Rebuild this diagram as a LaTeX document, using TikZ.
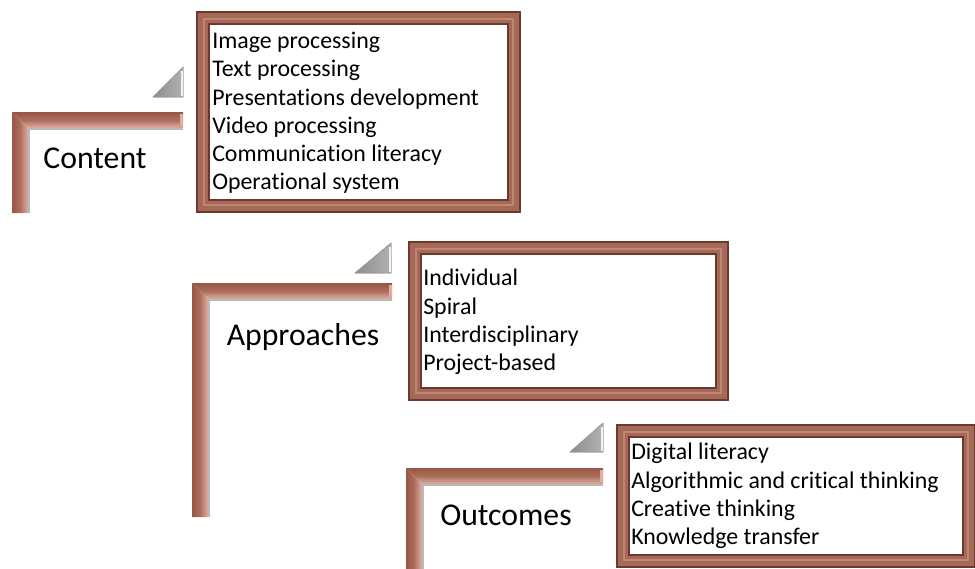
\documentclass[tikz,border=0pt]{standalone}
\usepackage{fontspec}
\setmainfont[Ligatures=NoCommon]{Carlito}

\definecolor{framebrown}{HTML}{A66958}
\definecolor{framedark}{HTML}{6B3A2C}
\definecolor{framelight}{HTML}{BF8676}
\definecolor{barbrown}{HTML}{AD6E5E}
\definecolor{bardark}{HTML}{955645}
\definecolor{barlight}{HTML}{DDB0A2}

\tikzset{
  steplabel/.style={font=\fontsize{23.8}{28}\selectfont, inner sep=0pt},
  itemlist/.style={font=\fontsize{17.9}{21.2}\selectfont, align=left, inner sep=0pt, anchor=west},
  corner/.style={left color=gray!90, right color=gray!60, draw=gray!80, line width=0.4pt}
}

% frame around a list: left, top, right, bottom (pixels)
\newcommand{\stepframe}[4]{%
  \fill[framebrown, draw=framedark, line width=0.8pt] (#1,#2) rectangle (#3,#4);
  \draw[framelight, line width=1.2pt] (#1+7,#2+7) rectangle (#3-7,#4-7);
  \fill[white, draw=framedark, line width=0.8pt] (#1+12,#2+12) rectangle (#3-12,#4-12);
}

% L-shaped bar: left, top, right end, thickness, bottom
\newcommand{\stepbar}[5]{%
  \shade[top color=bardark, bottom color=barlight, middle color=barbrown]
    (#1,#2) -- (#3,#2) -- (#3,#2+#4) -- (#1+#4,#2+#4) -- cycle;
  \shade[left color=bardark, right color=barlight, middle color=barbrown]
    (#1,#2) -- (#1+#4,#2+#4) -- (#1+#4,#5) -- (#1,#5) -- cycle;
  \fill[barlight] (#3-3,#2+2) rectangle (#3,#2+#4-2);
  \draw[gray!55, line width=0.8pt] (#3,#2+#4+1) -- (#1+#4+1,#2+#4+1) -- (#1+#4+1,#5);
}

\begin{document}
\begin{tikzpicture}[x=0.75pt, y=-0.75pt]
\useasboundingbox (0,0) rectangle (975,568);

% step 1
\stepbar{12}{112}{183}{16}{213}
\fill[corner] (153,97) -- (183,97) -- (183,67) -- cycle;
\draw[white!90!gray, line width=1.4pt] (182,71) -- (182,96);
\stepframe{197}{12}{520}{212}
\node[steplabel] (content) at (95,158) {Content};
\node[itemlist] (contentitems) at (212,113) {Image processing\\Text processing\\Presentations development\\Video processing\\Communication literacy\\Operational system};

% step 2
\stepbar{192}{283}{392}{16}{517}
\fill[corner] (355,273) -- (391,273) -- (391,243) -- cycle;
\draw[white!90!gray, line width=1.4pt] (390,247) -- (390,272);
\stepframe{409}{242}{728}{400}
\node[steplabel] (approaches) at (303,337) {Approaches};
\node[itemlist] (approachitems) at (423,322) {Individual\\Spiral\\Interdisciplinary\\Project-based};

% step 3
\stepbar{406}{468}{603}{16}{570}
\fill[corner] (570,452) -- (603,452) -- (603,423) -- cycle;
\draw[white!90!gray, line width=1.4pt] (602,427) -- (602,451);
\stepframe{617}{425}{975}{567}
\node[steplabel] (outcomes) at (506,515) {Outcomes};
\node[itemlist] (outcomeitems) at (631,496) {Digital literacy\\Algorithmic and critical thinking\\Creative thinking\\Knowledge transfer};
\end{tikzpicture}
\end{document}
